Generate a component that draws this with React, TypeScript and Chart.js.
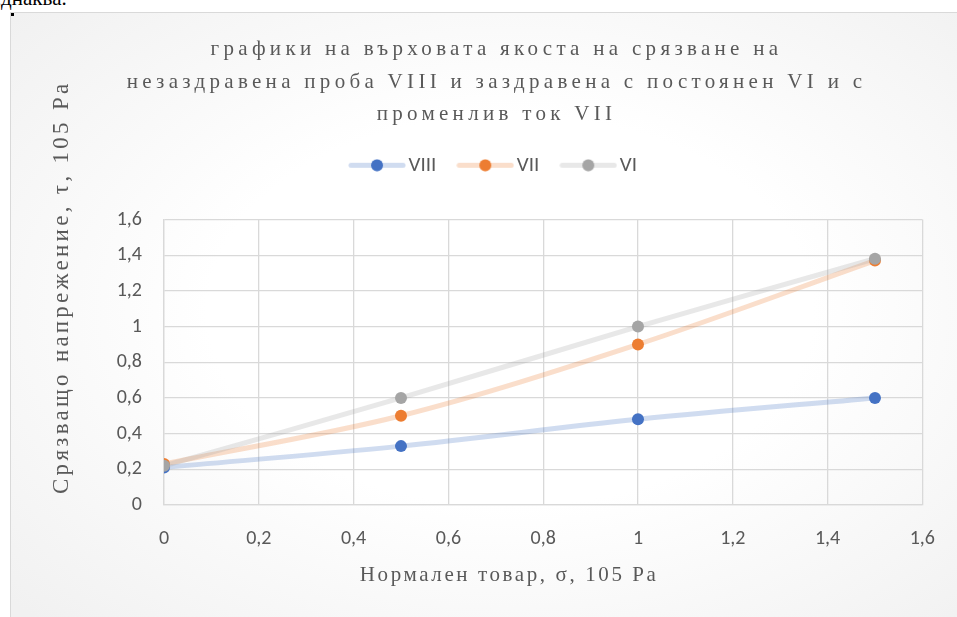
import { useEffect, useRef } from "react";
import { Chart, registerables } from "chart.js";

Chart.register(...registerables);

// ---- data ----
const sigma = [0, 0.5, 1, 1.5];
const tauVIII = [0.21, 0.33, 0.48, 0.6];
const tauVII = [0.23, 0.5, 0.9, 1.37];
const tauVI = [0.22, 0.6, 1.0, 1.38];
const seriesNames = ["VIII", "VII", "VI"];
const titleLines = [
  "графики на върховата якоста на срязване на",
  "незаздравена проба VIII и заздравена с постоянен VI и с",
  "променлив ток VII",
];
const xTitle = "Нормален товар, σ, 105 Pa";
const yTitle = "Срязващо напрежение, τ, 105 Pa";
const axisMin = 0;
const axisMax = 1.6;
const axisStep = 0.2;
const pageText = "еднаква.";

// ---- styles ----
const markerColors = ["#4472C4", "#ED7D31", "#A5A5A5"];
const lineColors = [
  "rgba(68,114,196,0.25)",
  "rgba(237,125,49,0.25)",
  "rgba(165,165,165,0.25)",
];
const TEXT = "#595959";
const GRID = "#d9d9d9";
const SERIF = '"Liberation Serif", "Times New Roman", serif';
const SANS = 'Carlito, Lato, "Liberation Sans", sans-serif';
const TITLE_SPACING = "4.3px";

function fmt(v: number) {
  const r = Math.round(v * 10) / 10;
  return String(r).replace(".", ",");
}

function legendIcon(i: number) {
  const c = document.createElement("canvas");
  c.width = 58;
  c.height = 13;
  const ctx = c.getContext("2d")!;
  ctx.strokeStyle = lineColors[i];
  ctx.lineWidth = 5;
  ctx.lineCap = "round";
  ctx.beginPath();
  ctx.moveTo(3, 6.5);
  ctx.lineTo(55, 6.5);
  ctx.stroke();
  ctx.fillStyle = markerColors[i];
  ctx.beginPath();
  ctx.arc(29, 6.5, 6, 0, Math.PI * 2);
  ctx.fill();
  return c;
}

const axisTitlePlugin = {
  id: "axisTitlePlugin",
  afterDraw(chart: any) {
    const { ctx, chartArea } = chart;
    // y-axis title
    ctx.save();
    const cy = (chartArea.top + chartArea.bottom) / 2 - 75;
    ctx.translate(51, cy);
    ctx.rotate(-Math.PI / 2);
    ctx.font = `23px ${SERIF}`;
    (ctx as any).letterSpacing = "3.3px";
    ctx.fillStyle = TEXT;
    ctx.textAlign = "center";
    ctx.textBaseline = "middle";
    ctx.fillText(yTitle, 0, 0);
    ctx.restore();
    // x-axis title
    ctx.save();
    ctx.font = `21px ${SERIF}`;
    (ctx as any).letterSpacing = "2.6px";
    ctx.fillStyle = TEXT;
    ctx.textAlign = "center";
    ctx.textBaseline = "middle";
    ctx.fillText(xTitle, (chartArea.left + chartArea.right) / 2 - 34, chartArea.bottom + 70);
    ctx.restore();
  },
};

const titleSpacingPlugin = {
  id: "titleSpacingPlugin",
  beforeDraw(chart: any) {
    const tb = chart.titleBlock;
    if (tb && !tb.__patched) {
      const orig = tb.draw.bind(tb);
      tb.draw = (...args: any[]) => {
        const ctx = chart.ctx;
        ctx.save();
        (ctx as any).letterSpacing = TITLE_SPACING;
        orig(...args);
        ctx.restore();
      };
      tb.__patched = true;
    }
  },
};

export default function App() {
  const ref = useRef<HTMLCanvasElement>(null);

  useEffect(() => {
    if (!ref.current) return;
    const series = [tauVIII, tauVII, tauVI];
    const datasets = series.map((vals, i) => ({
      label: seriesNames[i],
      data: sigma.map((x, k) => ({ x, y: vals[k] })),
      borderColor: lineColors[i],
      backgroundColor: markerColors[i],
      pointBackgroundColor: markerColors[i],
      pointBorderColor: markerColors[i],
      pointBorderWidth: 0,
      pointRadius: 6,
      borderWidth: 5,
      tension: 0.33,
      fill: false,
      order: 2 - i,
    }));
    const icons = [0, 1, 2].map(legendIcon);

    const chart = new Chart(ref.current, {
      type: "line",
      data: { datasets },
      plugins: [axisTitlePlugin, titleSpacingPlugin],
      options: {
        animation: false,
        responsive: false,
        layout: { padding: { left: 56, right: 31, top: 0, bottom: 0 } },
        plugins: {
          tooltip: { enabled: false },
          title: {
            display: true,
            text: titleLines,
            color: TEXT,
            font: { family: SERIF, size: 21, weight: "normal", lineHeight: 1.548 },
            padding: { top: 20.5, bottom: -4.25 },
          },
          legend: {
            display: true,
            labels: {
              usePointStyle: true,
              pointStyleWidth: 42,
              padding: 28,
              color: TEXT,
              font: { family: SANS, size: 21 },
              sort: (a: any, b: any) => a.datasetIndex - b.datasetIndex,
              generateLabels: () =>
                seriesNames.map((name, i) => ({
                  text: name,
                  datasetIndex: i,
                  pointStyle: icons[i],
                  fillStyle: markerColors[i],
                  strokeStyle: markerColors[i],
                  lineWidth: 0,
                  hidden: false,
                  fontColor: TEXT,
                })),
            },
          },
        },
        scales: {
          x: {
            type: "linear",
            min: axisMin,
            max: axisMax,
            afterFit: (s: any) => {
              s.height = 112;
            },
            ticks: {
              stepSize: axisStep,
              padding: 22,
              color: TEXT,
              font: { family: SANS, size: 20 },
              callback: (v: any) => fmt(Number(v)),
              maxRotation: 0,
            },
            grid: { color: GRID, lineWidth: 1.3, drawTicks: false },
            border: { color: GRID, width: 1.3 },
          },
          spacer: {
            type: "linear",
            position: "top",
            display: true,
            afterFit: (s: any) => {
              s.height = 33.75;
            },
            ticks: { display: false },
            grid: { display: false, drawTicks: false },
            border: { display: false },
          },
          y: {
            type: "linear",
            min: axisMin,
            max: axisMax,
            afterFit: (s: any) => {
              s.width = 97;
            },
            ticks: {
              stepSize: axisStep,
              padding: 22,
              color: TEXT,
              font: { family: SANS, size: 20 },
              callback: (v: any) => fmt(Number(v)),
            },
            grid: { color: GRID, lineWidth: 1.3, drawTicks: false },
            border: { color: GRID, width: 1.3 },
          },
        },
      } as any,
    });
    return () => chart.destroy();
  }, []);

  return (
    <div
      style={{
        position: "fixed",
        left: 0,
        top: 0,
        width: 957,
        height: 617,
        overflow: "hidden",
        background: "#ffffff",
      }}
    >
      <div
        style={{
          position: "absolute",
          left: -8,
          top: -14,
          fontFamily: SERIF,
          fontSize: 21,
          whiteSpace: "nowrap",
          color: "#000",
        }}
      >
        {pageText}
      </div>
      <div
        style={{
          position: "absolute",
          left: 10,
          top: 12,
          width: 960,
          height: 620,
          borderLeft: "1px solid #d9d9d9",
          borderTop: "1px solid #d9d9d9",
          background:
            "radial-gradient(ellipse 70% 70% at 52% 48%, #ffffff 45%, #f1f1f1 100%)",
        }}
      >
        <canvas
          ref={ref}
          width={946}
          height={604}
          style={{ display: "block", width: 946, height: 604 }}
        />
      </div>
      <div
        style={{
          position: "absolute",
          left: 11,
          top: 13,
          width: 3,
          height: 3,
          background: "#000",
        }}
      />
    </div>
  );
}
